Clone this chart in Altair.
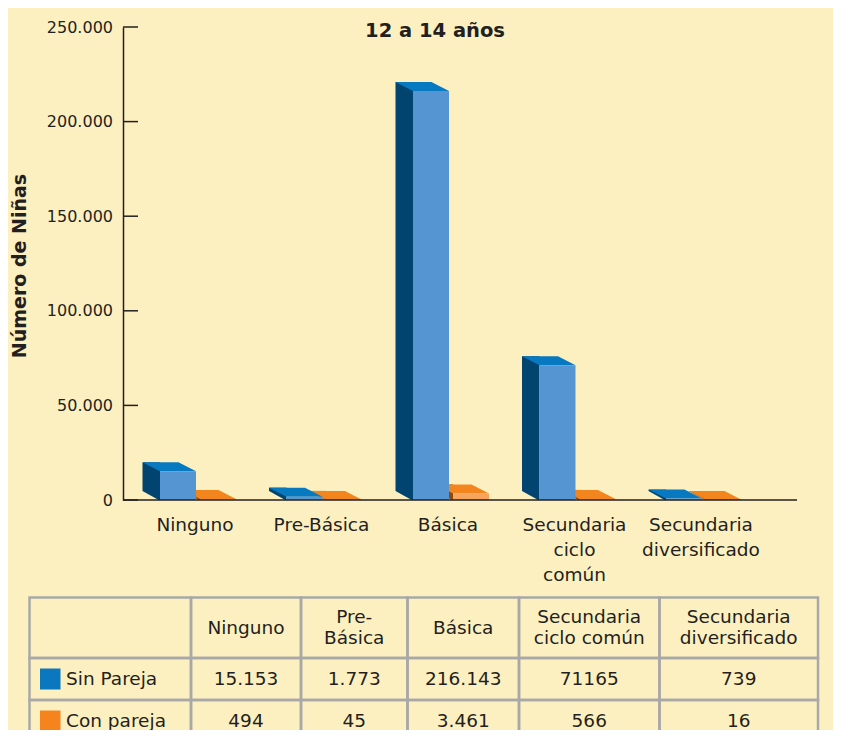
import altair as alt
import pandas as pd

# ---------------- datos ----------------
categorias = ["Ninguno", "Pre-Básica", "Básica", "Secundaria ciclo común", "Secundaria diversificado"]
sin_pareja = [15153, 1773, 216143, 71165, 739]
con_pareja = [494, 45, 3461, 566, 16]
marcas_y = [0, 50000, 100000, 150000, 200000, 250000]
series = ["Sin Pareja", "Con pareja"]
encabezados_tabla = ["Ninguno", "Pre-\nBásica", "Básica", "Secundaria\nciclo común", "Secundaria\ndiversificado"]
texto_sin_pareja = ["15.153", "1.773", "216.143", "71165", "739"]
texto_con_pareja = ["494", "45", "3.461", "566", "16"]
titulo = "12 a 14 años"
titulo_y = "Número de Niñas"

# ---------------- estilo / disposición ----------------
ANCHO, ALTO = 674, 473
FUENTE = "DejaVu Sans"
FONDO = "#fdf0c0"
TINTA = "#231f20"
LINEA_TABLA = "#a8a8a8"
AZUL = {"lado": "#00446f", "top": "#0779c1", "frente": "#5596d2", "muestra": "#0a77bf"}
NARANJA = {"lado": "#8c4a0e", "top": "#f3851f", "frente": "#f7a55d", "muestra": "#f5841f"}
bordes_col = [0, 161.5, 271.5, 378, 489.5, 630, 788.5]
bordes_fila = [0, 60.5, 102.5, 144.5]
ALTO_LINEA = 21

# forma 3D (unidades de 10 px con size=400)
PATH_TOP = "M0,0 L3.6,0 L1.85,-0.9 L-1.75,-0.9 Z"
PATH_MASK = "M0.05,0.1 L-1.75,-0.9 L-1.85,-0.9 L-1.85,0.1 Z"

df_sin = pd.DataFrame({"categoria": categorias, "valor": sin_pareja})
df_con = pd.DataFrame({"categoria": categorias, "valor": con_pareja})
df_marcas = pd.DataFrame({"valor": marcas_y})
df_cero = pd.DataFrame({"valor": [0]})

escala_x = alt.Scale(domain=categorias, paddingInner=0, paddingOuter=0.164, align=0.2108)
escala_y = alt.Scale(domain=[0, 250000], nice=False, zero=True)

eje_x = alt.Axis(
    title=None, domain=False, ticks=False, tickSize=0, labelPadding=15,
    labelFont=FUENTE, labelFontSize=18.5, labelColor=TINTA, labelAngle=0,
    labelLineHeight=25, labelBaseline="top", labelOverlap=False,
    labelExpr="indexof(datum.label, 'Secundaria') == 0 ? split(datum.label, ' ') : datum.label",
)
eje_y = alt.Axis(
    title=titulo_y, values=marcas_y, grid=False, ticks=False, tickSize=0,
    labelPadding=10.5, labelFont=FUENTE, labelFontSize=16, labelColor=TINTA,
    labelFlush=False, labelOverlap=False,
    labelExpr="replace(format(datum.value, ','), ',', '.')",
    domainColor=TINTA, domainWidth=1.5,
    titleFont=FUENTE, titleFontSize=19, titleFontWeight="bold", titleColor=TINTA,
    titleAngle=270, titleX=-97.5, titleY=238.5, titleAlign="center", titleBaseline="alphabetic",
)

X = alt.X("categoria:N", sort=categorias, scale=escala_x, axis=eje_x)
Y = alt.Y("valor:Q", scale=escala_y, axis=eje_y)


def caja(df, x_izq, col):
    base = alt.Chart(df).encode(x=X, y=Y)
    lado = base.mark_bar(width=17.5, xOffset=x_izq - 8.75, yOffset=-9, color=col["lado"]).encode(
        y2=alt.datum(0))
    mascara = base.mark_point(shape=PATH_MASK, size=400, filled=True, color=FONDO, opacity=1,
                              strokeWidth=0, xOffset=x_izq).encode(y=alt.datum(0))
    tapa = base.mark_point(shape=PATH_TOP, size=400, filled=True, color=col["top"], opacity=1,
                           strokeWidth=0, xOffset=x_izq)
    frente = base.mark_bar(width=36, xOffset=x_izq + 18, color=col["frente"]).encode(
        y2=alt.datum(0))
    return [lado, mascara, tapa, frente]


capas_barras = caja(df_con, 5, NARANJA) + caja(df_sin, -35, AZUL)

linea_x = alt.Chart(df_cero).mark_rule(color=TINTA, strokeWidth=1.5).encode(
    y=Y, x=alt.value(0), x2=alt.value(ANCHO))
marcas = alt.Chart(df_marcas).mark_rule(color=TINTA, strokeWidth=1.5).encode(
    y=Y, x=alt.value(0), x2=alt.value(15))

barras = alt.layer(*capas_barras, linea_x, marcas)

# ---------------- tabla ----------------
def centro(b, i):
    return (b[i] + b[i + 1]) / 2

celdas = pd.DataFrame([
    {"tx": bordes_col[c], "tx2": bordes_col[c + 1], "ty": bordes_fila[r], "ty2": bordes_fila[r + 1]}
    for r in range(3) for c in range(6)
])
textos = []
for i, t in enumerate(encabezados_tabla):
    n_lineas = t.count("\n") + 1
    textos.append({"tx": centro(bordes_col, i + 1),
                   "ty": centro(bordes_fila, 0) - (n_lineas - 1) * ALTO_LINEA / 2, "texto": t})
for i, t in enumerate(texto_sin_pareja):
    textos.append({"tx": centro(bordes_col, i + 1), "ty": centro(bordes_fila, 1), "texto": t})
for i, t in enumerate(texto_con_pareja):
    textos.append({"tx": centro(bordes_col, i + 1), "ty": centro(bordes_fila, 2), "texto": t})
df_textos = pd.DataFrame(textos)

df_series = pd.DataFrame({
    "serie": series,
    "tx": [36.5, 36.5],
    "ty": [centro(bordes_fila, 1), centro(bordes_fila, 2)],
    "mx": [10.5, 10.5], "mx2": [31, 31],
    "my": [centro(bordes_fila, 1) - 10.5, centro(bordes_fila, 2) - 10.5],
    "my2": [centro(bordes_fila, 1) + 10.5, centro(bordes_fila, 2) + 10.5],
})

TX_SCALE = alt.Scale(domain=[0, bordes_col[-1]], range=[-93.5, 695], nice=False, zero=False)
TY_SCALE = alt.Scale(domain=[0, bordes_fila[-1]], range=[570.5, 715], nice=False, zero=False)

rejilla = alt.Chart(celdas).mark_rect(fillOpacity=0, stroke=LINEA_TABLA, strokeWidth=2.5).encode(
    x=alt.X("tx:Q", scale=TX_SCALE, axis=None), x2="tx2:Q",
    y=alt.Y("ty:Q", scale=TY_SCALE, axis=None), y2="ty2:Q")
texto_celdas = alt.Chart(df_textos).mark_text(
    font=FUENTE, fontSize=18.5, color=TINTA, align="center", baseline="middle",
    lineBreak="\n", lineHeight=ALTO_LINEA).encode(
    x=alt.X("tx:Q", scale=TX_SCALE, axis=None),
    y=alt.Y("ty:Q", scale=TY_SCALE, axis=None), text="texto:N")
muestras = alt.Chart(df_series).mark_rect().encode(
    x=alt.X("mx:Q", scale=TX_SCALE, axis=None), x2="mx2:Q",
    y=alt.Y("my:Q", scale=TY_SCALE, axis=None), y2="my2:Q",
    color=alt.Color("serie:N", scale=alt.Scale(domain=series, range=[AZUL["muestra"], NARANJA["muestra"]]),
                    legend=None))
etiquetas = alt.Chart(df_series).mark_text(
    font=FUENTE, fontSize=18.5, color=TINTA, align="left", baseline="middle").encode(
    x=alt.X("tx:Q", scale=TX_SCALE, axis=None),
    y=alt.Y("ty:Q", scale=TY_SCALE, axis=None), text="serie:N")

tabla = alt.layer(rejilla, texto_celdas, muestras, etiquetas)

chart = alt.layer(barras, tabla).resolve_scale(
    x="independent", y="independent", color="independent"
).properties(
    width=ANCHO, height=ALTO,
    title=alt.Title(titulo, font=FUENTE, fontSize=19.5, fontWeight="bold", color=TINTA,
                    anchor="middle", frame="group", offset=-31.5, baseline="middle", dx=-25),
    autosize=alt.AutoSizeParams(type="none"),
    padding={"left": 115, "top": 19, "right": 36, "bottom": 230},
).configure(background=FONDO).configure_view(stroke=None)

chart.save("out.html", embed_options={"renderer": "svg", "actions": False})
